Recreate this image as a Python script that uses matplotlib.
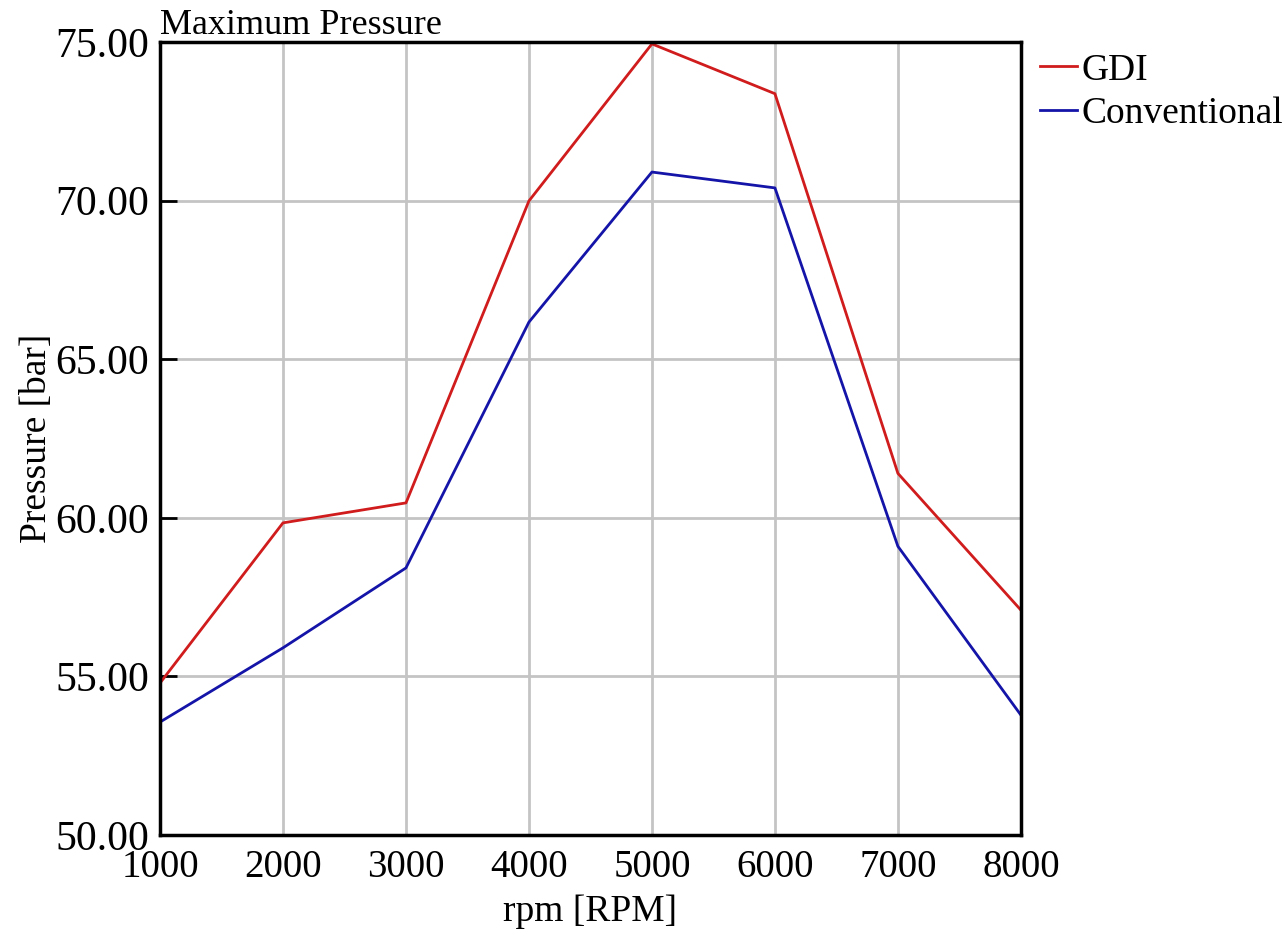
import matplotlib.pyplot as plt

# dados
rpm = [1000, 2000, 3000, 4000, 5000, 6000, 7000, 8000]
gdi = [54.79, 59.84, 60.47, 69.99, 74.94, 73.37, 61.40, 57.09]
convencional = [53.56, 55.90, 58.42, 66.17, 70.90, 70.40, 59.10, 53.78]

y_ticks = [50, 55, 60, 65, 70, 75]

plt.rcParams['font.family'] = ['Liberation Serif', 'DejaVu Serif']

fig = plt.figure(figsize=(12.84, 9.48), dpi=100)
ax = fig.add_axes([0.1246, 0.1192, 0.6705, 0.8365])

ax.plot(rpm, gdi, color='#d01c1c', linewidth=2, label='GDI')
ax.plot(rpm, convencional, color='#1414a8', linewidth=2, label='Conventional')

ax.set_xlim(1000, 8000)
ax.set_ylim(50, 75)
ax.set_xticks(rpm)
ax.set_yticks(y_ticks)
ax.set_yticklabels([f'{v:.2f}' for v in y_ticks])

ax.grid(True, color='#c4c4c4', linewidth=2)
ax.set_axisbelow(True)

for s in ax.spines.values():
    s.set_linewidth(2.5)
    s.set_color('black')

ax.tick_params(axis='y', direction='in', length=12, width=2, labelsize=30, pad=8)
ax.tick_params(axis='x', length=0, labelsize=28, pad=10)

ax.set_xlabel('rpm [RPM]', fontsize=27, labelpad=6)
ax.set_ylabel('Pressure [bar]', fontsize=27, labelpad=1)
ax.set_title('Maximum Pressure', loc='left', fontsize=26, pad=0)

ax.legend(loc='upper left', bbox_to_anchor=(0.998, 1.012), frameon=False,
          fontsize=27, handlelength=1.0, handletextpad=0.1,
          labelspacing=0.25, borderaxespad=0.15)

fig.savefig('out.png', dpi=100)
